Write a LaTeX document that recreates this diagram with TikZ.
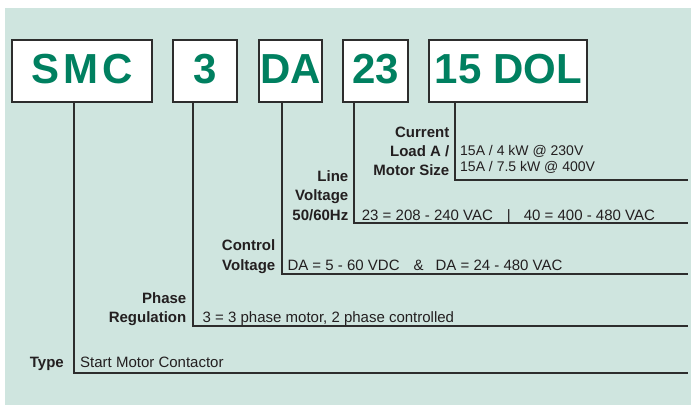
\documentclass[tikz,border=0pt]{standalone}
\usepackage{fontspec}
\setmainfont{Liberation Sans}
\definecolor{mintbg}{RGB}{207,229,223}
\definecolor{codegreen}{RGB}{0,128,96}
\definecolor{linegray}{RGB}{45,45,45}
\definecolor{textgray}{RGB}{35,31,32}
\tikzset{
  codebox/.style={draw=linegray, line width=2pt, fill=white, minimum height=61.5pt,
    inner sep=0pt, text height=30pt, text depth=6pt, text=codegreen,
    font=\fontsize{42}{42}\selectfont\bfseries},
  fieldlbl/.style={anchor=base east, align=right, inner sep=0pt, text=textgray,
    font=\fontsize{15}{19.3}\selectfont\bfseries},
  fielddesc/.style={anchor=base west, align=left, inner sep=0pt, text=textgray,
    font=\fontsize{15}{19}\selectfont},
  leader/.style={draw=linegray, line width=2pt}
}
\begin{document}
\begin{tikzpicture}[x=1pt,y=-1pt]
\useasboundingbox (0,0) rectangle (691,405);
\fill[mintbg] (5,8) rectangle (691,405);
% code boxes
\node[codebox, minimum width=139.4pt] (smc) at (82,71.2) {\addfontfeatures{LetterSpace=10}SMC};
\node[codebox, minimum width=63.7pt] (phase) at (204.9,71.2) {3};
\node[codebox, minimum width=63.6pt] (ctrl) at (290.5,71.2) {DA};
\node[codebox, minimum width=64.4pt] (volt) at (375.5,71.2) {23};
\node[codebox, minimum width=158.3pt] (curr) at (508.2,71.2) {15 DOL};
% line ends
\coordinate (typeR) at (688,372.7);
\coordinate (phaseR) at (688,325.7);
\coordinate (ctrlR) at (688,274.2);
\coordinate (voltR) at (688,222.7);
\coordinate (currR) at (688,180);
\draw[leader] ([xshift=-8pt]smc.south) |- (typeR);
\draw[leader] ([xshift=-12.2pt]phase.south) |- (phaseR);
\draw[leader] ([xshift=-9pt]ctrl.south) |- (ctrlR);
\draw[leader] ([xshift=-21.2pt]volt.south) |- (voltR);
\draw[leader] ([xshift=-53.7pt]curr.south) |- (currR);
% labels and values
\node[fieldlbl] (typelbl) at (64,367.3) {Type};
\node[fielddesc] (typedesc) at (80,367.3) {Start Motor Contactor};
\node[fieldlbl] (phaselbl) at (186.5,322.7) {Phase\\Regulation};
\node[fielddesc] (phasedesc) at (202.5,322.7) {3 = 3 phase motor, 2 phase controlled};
\node[fieldlbl] (ctrllbl) at (275.5,270) {Control\\Voltage};
\node[fielddesc] (ctrldesc) at (287.3,270) {DA = 5 - 60 VDC\hspace{14pt}\&\hspace{12pt}DA = 24 - 480 VAC};
\node[fieldlbl] (voltlbl) at (348.5,220) {Line\\Voltage\\50/60Hz};
\node[fielddesc] (voltdesc) at (361.7,220) {23 = 208 - 240 VAC\hspace{14pt}|\hspace{13pt}40 = 400 - 480 VAC};
\node[fieldlbl] (currlbl) at (449.5,175.7) {Current\\Load A /\\Motor Size};
\node[fielddesc, font=\fontsize{14}{16.7}\selectfont] (currdesc) at (460,171.7) {15A / 4 kW @ 230V\\15A / 7.5 kW @ 400V};
\end{tikzpicture}
\end{document}
